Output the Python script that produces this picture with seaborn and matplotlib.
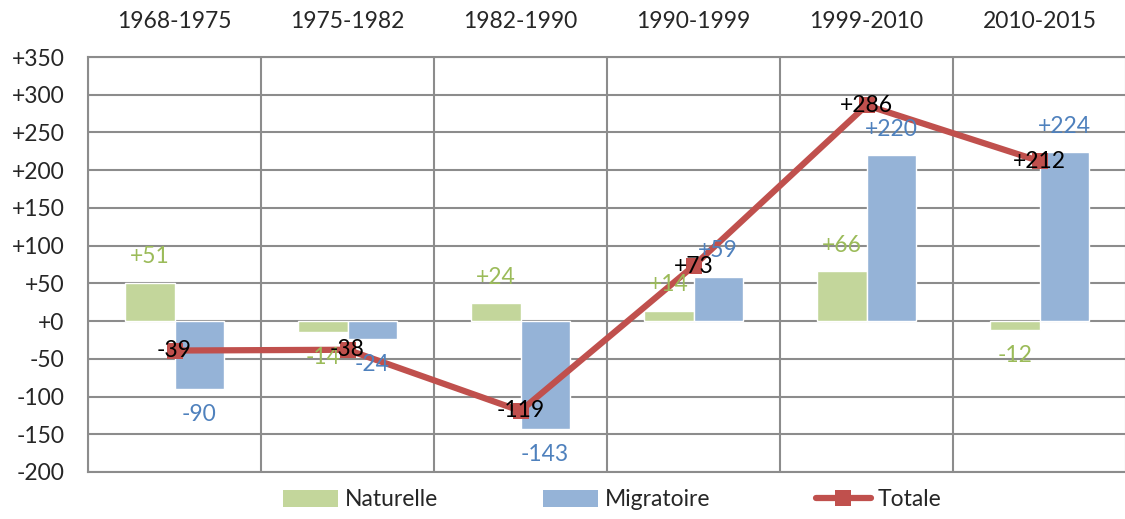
import matplotlib
matplotlib.use("Agg")
from matplotlib import pyplot as plt
from matplotlib.ticker import FuncFormatter, FixedLocator
from matplotlib.lines import Line2D
from matplotlib.patches import Patch
import numpy as np
import pandas as pd
import seaborn as sns

# values
periods = ["1968-1975", "1975-1982", "1982-1990", "1990-1999", "1999-2010", "2010-2015"]
naturelle = [51, -14, 24, 14, 66, -12]
migratoire = [-90, -24, -143, 59, 220, 224]
totale = [-39, -38, -119, 73, 286, 212]
yticks = list(range(-200, 351, 50))

green = "#C3D69B"
blue = "#95B3D7"
red = "#C0504D"
green_txt = "#9BBB59"
blue_txt = "#4F81BD"
grid_col = "#8C8C8C"
fs = 16.5

sns.set_style("white")
plt.rcParams["font.family"] = ["Lato", "DejaVu Sans"]

df = pd.DataFrame(
    {
        "period": periods * 2,
        "value": naturelle + migratoire,
        "type": ["Naturelle"] * 6 + ["Migratoire"] * 6,
    }
)

fig = plt.figure(figsize=(11.25, 5.19), dpi=100)
ax = fig.add_axes([88 / 1125, 47 / 519, 1038 / 1125, 415 / 519])

sns.barplot(
    data=df, x="period", y="value", hue="type", order=periods,
    hue_order=["Naturelle", "Migratoire"],
    palette={"Naturelle": green, "Migratoire": blue},
    width=0.57, gap=0, saturation=1, legend=False, ax=ax, zorder=3,
)

# total line
sns.lineplot(x=np.arange(len(periods)), y=totale, color=red, linewidth=4.5,
             marker="s", markersize=11, markeredgewidth=0, ax=ax, zorder=4)

# bar labels
for cont, vals, col in zip(ax.containers, [naturelle, migratoire], [green_txt, blue_txt]):
    ax.bar_label(cont, labels=[f"{v:+d}" for v in vals], padding=11,
                 color=col, fontsize=fs, zorder=5)

for i, v in enumerate(totale):
    ax.text(i, v, f"{v:+d}", ha="center", va="center", fontsize=fs,
            color="black", zorder=6)

ax.set_xlim(-0.5, len(periods) - 0.5)
ax.set_ylim(-200, 350)
ax.yaxis.set_major_locator(FixedLocator(yticks))
ax.yaxis.set_major_formatter(FuncFormatter(lambda v, p: f"{v:+.0f}"))

ax.xaxis.tick_top()
ax.xaxis.set_minor_locator(FixedLocator(np.arange(-0.5, len(periods), 1)))
ax.tick_params(axis="x", which="major", length=0, pad=18, labelsize=fs)
ax.tick_params(axis="x", which="minor", length=0)
ax.tick_params(axis="y", length=6, width=1.5, color=grid_col, pad=11, labelsize=fs)
ax.set_xlabel("")
ax.set_ylabel("")

ax.grid(axis="y", color=grid_col, linewidth=1.5, zorder=0)
ax.grid(axis="x", which="minor", color=grid_col, linewidth=1.5, zorder=0)
ax.grid(axis="x", which="major", visible=False)
ax.set_axisbelow(True)

for side in ["left", "top", "bottom"]:
    ax.spines[side].set_color(grid_col)
    ax.spines[side].set_linewidth(1.5)
ax.spines["right"].set_visible(False)

handles = [
    Patch(facecolor=green, edgecolor="none"),
    Patch(facecolor=blue, edgecolor="none"),
    Line2D([], [], color=red, linewidth=4.5, marker="s", markersize=11, markeredgewidth=0),
]
fig.legend(handles, ["Naturelle", "Migratoire", "Totale"], loc="center",
           bbox_to_anchor=(612 / 1125, 19 / 519), ncol=3, frameon=False,
           fontsize=fs, handlelength=2.4, handleheight=0.75, columnspacing=4.6,
           handletextpad=0.3)

fig.savefig("out.png", dpi=100)
